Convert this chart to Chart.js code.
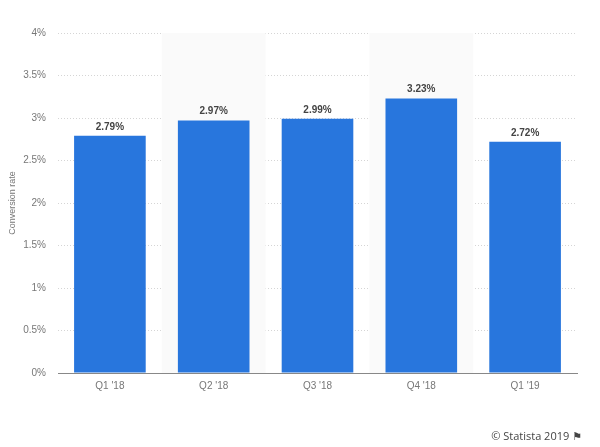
<!DOCTYPE html>
<html>
<head>
<meta charset="utf-8">
<script src="https://cdn.jsdelivr.net/npm/chart.js@4/dist/chart.umd.min.js"></script>
<style>
  html, body { margin: 0; padding: 0; background: #fff; }
  #wrap { position: relative; width: 600px; height: 447px; }
  #footer {
    position: absolute; right: 18px; top: 428px;
    font-family: "Open Sans", sans-serif; font-size: 11px; color: #444;
  }
</style>
</head>
<body>
<div id="wrap">
  <canvas id="barChart" width="600" height="447"></canvas>
  <div id="footer">© Statista 2019 <span style="font-family:'DejaVu Sans';font-size:11px;">⚑</span></div>
</div>
<script>
const quarters = ["Q1 '18", "Q2 '18", "Q3 '18", "Q4 '18", "Q1 '19"];
const conversionRate = [2.79, 2.97, 2.99, 3.23, 2.72];
const yTicks = [0, 0.5, 1, 1.5, 2, 2.5, 3, 3.5, 4];
const shadedBands = [1, 3];

// light grey column bands behind every other category
const bandPlugin = {
    id: "bands",
    beforeDatasetsDraw(chart) {
        const ctx = chart.ctx;
        const x = chart.scales.x;
        const area = chart.chartArea;
        const half = (x.getPixelForValue(1) - x.getPixelForValue(0)) / 2;
        ctx.save();
        ctx.fillStyle = "#fafafa";
        shadedBands.forEach(i => {
            const cx = x.getPixelForValue(i);
            ctx.fillRect(cx - half, area.top, half * 2, area.bottom - area.top);
        });
        ctx.restore();
    }
};

// value labels above bars
const labelPlugin = {
    id: "valueLabels",
    afterDatasetsDraw(chart) {
        const ctx = chart.ctx;
        const meta = chart.getDatasetMeta(0);
        ctx.save();
        ctx.font = "bold 10px 'Liberation Sans', Arial, sans-serif";
        ctx.fillStyle = "#444";
        ctx.textAlign = "center";
        ctx.textBaseline = "bottom";
        meta.data.forEach((bar, i) => {
            ctx.fillText(conversionRate[i].toFixed(2) + "%", bar.x, bar.y - 4);
        });
        ctx.restore();
    }
};

document.addEventListener("DOMContentLoaded", () => {
    const ctx = document.getElementById("barChart");

    new Chart(ctx, {
        type: "bar",
        data: {
            labels: quarters,
            datasets: [{
                label: "Conversion rate",
                data: conversionRate,
                backgroundColor: "#2876dd",
                borderWidth: 0,
                categoryPercentage: 0.69,
                barPercentage: 1
            }]
        },
        options: {
            responsive: false,
            animation: false,
            layout: {
                padding: { top: 33, right: 23, left: 7, bottom: 0 }
            },
            plugins: {
                legend: { display: false },
                tooltip: { enabled: false }
            },
            scales: {
                x: {
                    grid: { display: false, drawTicks: false },
                    border: { color: "#888", width: 1 },
                    ticks: {
                        color: "#777",
                        padding: 7,
                        font: { family: "'Liberation Sans', Arial, sans-serif", size: 10 }
                    },
                    afterFit(scale) { scale.height = 74; }
                },
                y: {
                    min: 0,
                    max: 4,
                    afterBuildTicks(scale) {
                        scale.ticks = yTicks.map(v => ({ value: v }));
                    },
                    grid: {
                        color: "#d5d5d5",
                        drawTicks: false
                    },
                    border: { display: false, dash: [1, 2] },
                    ticks: {
                        color: "#777",
                        padding: 12,
                        font: { family: "'Liberation Sans', Arial, sans-serif", size: 10 }
                        ,
                        callback: v => v + "%"
                    },
                    title: {
                        display: true,
                        text: "Conversion rate",
                        color: "#777",
                        padding: { top: 0, bottom: 0 },
                        font: { family: "'Liberation Sans', Arial, sans-serif", size: 9 }
                    },
                    afterFit(scale) { scale.width = 51; }
                }
            }
        },
        plugins: [bandPlugin, labelPlugin]
    });
});
</script>
</body>
</html>
